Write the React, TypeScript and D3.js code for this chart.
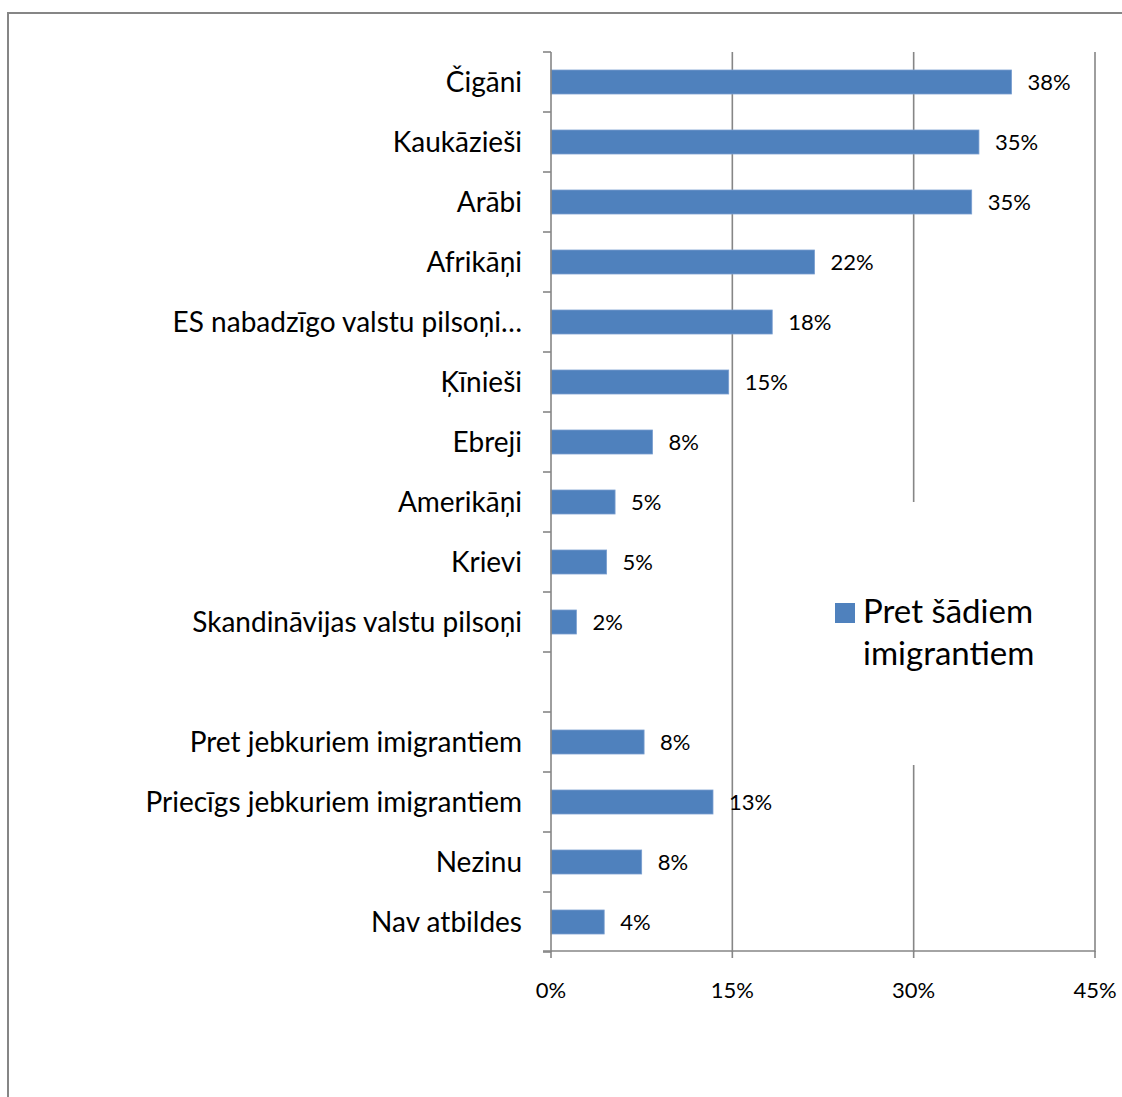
import React from "react";
import * as d3 from "d3";

const categories: string[] = [
  "Čigāni",
  "Kaukāzieši",
  "Arābi",
  "Afrikāņi",
  "ES nabadzīgo valstu pilsoņi…",
  "Ķīnieši",
  "Ebreji",
  "Amerikāņi",
  "Krievi",
  "Skandināvijas valstu pilsoņi",
  " ",
  "Pret jebkuriem imigrantiem",
  "Priecīgs jebkuriem imigrantiem",
  "Nezinu",
  "Nav atbildes",
];
const values: (number | null)[] = [38.1, 35.4, 34.8, 21.8, 18.3, 14.7, 8.4, 5.3, 4.6, 2.1, null, 7.7, 13.4, 7.5, 4.4];
const xTicks: number[] = [0, 15, 30, 45];
const seriesName: string[] = ["Pret šādiem", "imigrantiem"];

const W = 1122;
const H = 1097;
const FONT = "Lato, 'Open Sans', sans-serif";
const GRID = "#868686";
const BAR = "#4F81BD";

export default function App() {
  const x = d3.scaleLinear().domain([0, 45]).range([551, 1095]);
  const y = d3
    .scaleBand<string>()
    .domain(categories)
    .range([52, 952])
    .paddingInner(0.6)
    .paddingOuter(0.3);
  const step = y.step();
  const top = 52;
  const bottom = 952;
  const boundaries = d3.range(categories.length + 1).map((i) => top + i * step);

  return (
    <svg
      width={W}
      height={H}
      style={{ position: "absolute", left: 0, top: 0, background: "#fff" }}
      fontFamily={FONT}
    >
      <rect x={0} y={0} width={W} height={H} fill="#fff" />
      {/* outer chart border */}
      <rect x={8} y={13} width={W + 20} height={H + 20} fill="none" stroke={GRID} strokeWidth={2} />

      {/* vertical gridlines */}
      {xTicks.slice(1).map((t) => (
        <line key={"g" + t} x1={x(t)} x2={x(t)} y1={top} y2={bottom} stroke={GRID} strokeWidth={1.6} />
      ))}

      {/* bars */}
      {categories.map((c, i) =>
        values[i] == null ? null : (
          <rect
            key={"b" + i}
            x={x(0)}
            y={y(c)!}
            width={x(values[i] as number) - x(0)}
            height={y.bandwidth()}
            fill={BAR}
            stroke="#7A9FD0"
            strokeWidth={0.8}
          />
        )
      )}

      {/* data labels */}
      {categories.map((c, i) =>
        values[i] == null ? null : (
          <text
            key={"l" + i}
            x={x(values[i] as number) + 16}
            y={y(c)! + y.bandwidth() / 2}
            dy="0.35em"
            fontSize={22}
            fill="#000"
          >
            {Math.round(values[i] as number) + "%"}
          </text>
        )
      )}

      {/* y axis */}
      <line x1={x(0)} x2={x(0)} y1={top} y2={bottom} stroke={GRID} strokeWidth={1.6} />
      {boundaries.map((b, i) => (
        <line key={"yt" + i} x1={x(0) - 8} x2={x(0)} y1={b} y2={b} stroke={GRID} strokeWidth={1.6} />
      ))}
      {categories.map((c, i) => (
        <text
          key={"c" + i}
          x={x(0) - 29}
          y={y(c)! + y.bandwidth() / 2}
          dy="0.35em"
          textAnchor="end"
          fontSize={28}
          fill="#000"
        >
          {c.trim()}
        </text>
      ))}

      {/* x axis */}
      <line x1={x(0) - 8} x2={x(45)} y1={bottom - 1} y2={bottom - 1} stroke={GRID} strokeWidth={1.6} />
      {xTicks.map((t) => (
        <line key={"xt" + t} x1={x(t)} x2={x(t)} y1={bottom - 1} y2={bottom + 6} stroke={GRID} strokeWidth={1.6} />
      ))}
      {xTicks.map((t) => (
        <text key={"xl" + t} x={x(t)} y={998} textAnchor="middle" fontSize={22} fill="#000">
          {t + "%"}
        </text>
      ))}

      {/* legend */}
      <rect x={825} y={502} width={225} height={263} fill="#fff" />
      <rect x={835} y={603} width={20} height={20} fill={BAR} />
      {seriesName.map((s, i) => (
        <text key={"lg" + i} x={863} y={623 + i * 42} fontSize={33} fill="#000">
          {s}
        </text>
      ))}
    </svg>
  );
}
